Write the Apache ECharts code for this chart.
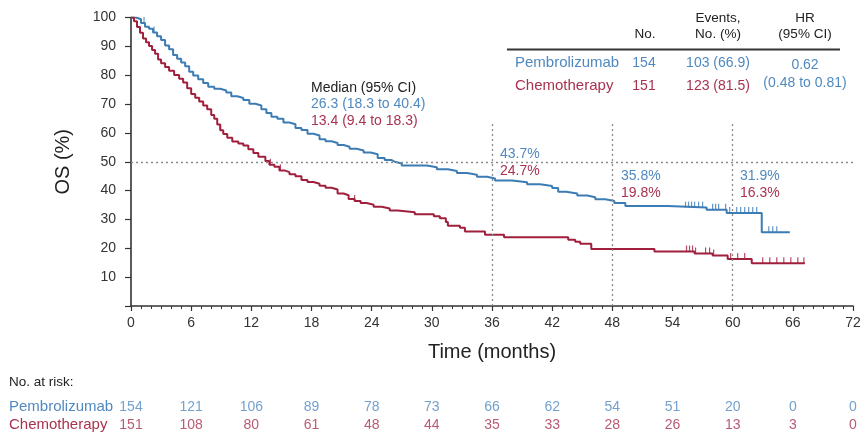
<!DOCTYPE html>
<html>
<head>
<meta charset="utf-8">
<script src="https://cdn.jsdelivr.net/npm/echarts@6/dist/echarts.min.js"></script>
<style>
html,body{margin:0;padding:0;background:#fff;}
#chart{width:865px;height:437px;}
</style>
</head>
<body>
<div id="chart"></div>
<script>
// ---- data ----
const pembroKM = [[0,100],[0.5,99.4],[1.0,98.1],[1.4,96.8],[1.8,96.1],[2.2,94.8],[2.6,93.5],[3.0,92.2],[3.4,90.3],[3.8,89.0],[4.2,87.0],[4.6,85.7],[5.0,84.4],[5.4,83.1],[5.8,81.2],[6.2,79.9],[6.7,78.6],[7.2,77.3],[7.7,76.0],[8.3,75.3],[8.9,74.7],[9.5,74.0],[10.0,72.7],[10.6,72.1],[11.2,71.4],[11.8,70.1],[12.4,69.5],[13.0,68.2],[13.5,66.9],[14.0,65.6],[14.6,64.9],[15.2,63.6],[15.8,63.0],[16.4,61.7],[17.0,61.0],[17.6,59.7],[18.2,59.1],[18.8,57.8],[19.4,57.1],[20.0,56.5],[20.6,55.8],[21.2,55.2],[21.8,54.5],[22.5,53.9],[23.2,53.2],[23.9,52.6],[24.6,51.3],[25.3,50.6],[26.0,50.0],[26.3,49.4],[27.0,48.7],[29.5,48.1],[30.5,47.4],[31.6,46.8],[32.5,46.1],[33.5,45.5],[34.5,44.8],[35.5,44.2],[36.3,43.5],[38.0,42.9],[39.5,42.2],[40.8,41.6],[42.0,40.9],[42.6,39.6],[43.4,39.0],[44.5,38.3],[45.5,37.7],[46.3,37.0],[47.3,36.4],[48.2,35.7],[49.3,34.7],[53.5,34.1],[57.4,33.4],[59.4,32.2],[62.9,25.6],[65.7,25.6]];
const chemoKM = [[0,100],[0.3,98.7],[0.6,96.7],[0.9,94.7],[1.2,92.7],[1.5,91.4],[1.8,90.1],[2.1,88.7],[2.4,87.4],[2.7,85.4],[3.0,84.1],[3.4,82.8],[3.8,81.5],[4.3,80.1],[4.8,78.8],[5.2,77.5],[5.6,75.5],[6.0,73.5],[6.4,72.2],[6.8,70.9],[7.2,69.5],[7.6,68.2],[8.0,66.2],[8.3,64.9],[8.6,62.9],[8.9,60.9],[9.2,59.6],[9.6,58.3],[10.1,57.0],[10.7,56.3],[11.2,55.6],[11.7,54.3],[12.2,53.0],[12.7,51.7],[13.4,50.3],[13.8,49.0],[14.3,48.3],[14.8,47.0],[15.3,46.4],[15.8,45.7],[16.4,45.0],[17.0,43.7],[17.6,43.0],[18.2,42.4],[18.8,41.7],[19.4,41.0],[20.0,40.4],[20.6,39.0],[21.2,38.4],[21.7,37.1],[22.3,36.4],[22.9,35.7],[23.5,35.1],[24.2,34.4],[25.0,33.8],[25.8,33.1],[26.6,32.5],[28.3,31.8],[30.2,31.1],[30.8,30.4],[31.4,29.1],[31.6,27.8],[32.8,27.1],[33.3,25.8],[35.3,24.7],[37.2,23.8],[43.6,23.0],[44.3,22.3],[44.8,21.6],[45.9,19.8],[52.2,18.9],[56.2,18.2],[58.0,17.5],[59.5,16.3],[61.9,14.8],[67.2,14.8]];
const pembroCensor = [1.3,2.3,55.3,55.6,55.9,56.2,56.6,57.0,58.0,58.3,58.6,59.3,59.7,60.4,60.8,61.2,61.6,62.0,62.4,63.6,64.0,64.4];
const chemoCensor = [8.9,13.9,14.9,22.3,55.4,55.7,56.0,56.3,57.3,57.7,58.1,59.8,60.5,61.2,63.0,63.7,64.4,65.1,65.8,66.5,67.1];
const riskTimes = [0,6,12,18,24,30,36,42,48,54,60,66,72];
const pembroRisk = [154,121,106,89,78,73,66,62,54,51,20,0,0];
const chemoRisk = [151,108,80,61,48,44,35,33,28,26,13,3,0];
const landmarkTimes = [36,48,60];
const landmarkTop = 64;
const medianLine = 50;
const xTickLabels = ['0','6','12','18','24','30','36','42','48','54','60','66','72'];
const yTickLabels = ['10','20','30','40','50','60','70','80','90','100'];

const BLUE = '#3c7cb4', RED = '#a01f3c';
const BLUE_T = '#5089bf', RED_T = '#a8324f';
const FONT = '"Liberation Sans", Arial, sans-serif';

function stepAt(km, t){ let v = km[0][1]; for (const p of km){ if (p[0] <= t) v = p[1]; else break; } return v; }

const chart = echarts.init(document.getElementById('chart'), null, {renderer:'canvas'});

const refLines = [[{coord:[0,medianLine]},{coord:[72,medianLine]}]].concat(
  landmarkTimes.map(t => [{coord:[t,0]},{coord:[t,landmarkTop]}]));

function txt(text, x, y, color, size, align){
  return {type:'text', x:x, y:y, silent:true,
    style:{text:text, fill:color, font:(size||13)+'px '+FONT, align:align||'left', verticalAlign:'middle', textAlign:align||'left', textVerticalAlign:'middle'}};
}

const option = {
  animation:false,
  backgroundColor:'#fff',
  grid:[
    {left:131, right:12, top:17.5, bottom:131},
    {left:131, right:12, top:397.5, height:36.6}
  ],
  xAxis:[
    {type:'value', gridIndex:0, min:0, max:72, interval:6,
     name:'Time (months)', nameLocation:'middle', nameGap:36,
     nameTextStyle:{fontSize:20, color:'#222', fontFamily:FONT},
     axisLine:{lineStyle:{color:'#333', width:1.6}},
     axisTick:{length:5, lineStyle:{color:'#333', width:1.2}},
     minorTick:{show:true, splitNumber:6, length:3, lineStyle:{color:'#333', width:1}},
     splitLine:{show:false},
     axisLabel:{fontSize:14, color:'#333', margin:10, fontFamily:FONT,
       formatter:(v)=>{const i=Math.round(v/6); return xTickLabels[i]!==undefined?xTickLabels[i]:'';}}},
    {type:'value', gridIndex:1, min:0, max:72, show:false}
  ],
  yAxis:[
    {type:'value', gridIndex:0, min:0, max:100, interval:10,
     name:'OS (%)', nameLocation:'middle', nameGap:58, nameRotate:90,
     nameTextStyle:{fontSize:20, color:'#222', fontFamily:FONT},
     axisLine:{show:true, lineStyle:{color:'#333', width:1.6}},
     axisTick:{show:true, length:6, lineStyle:{color:'#333', width:1.2}},
     splitLine:{show:false},
     axisLabel:{fontSize:14, color:'#333', margin:15, fontFamily:FONT,
       formatter:(v)=>{const i=Math.round(v/10)-1; return (v>0 && yTickLabels[i])?yTickLabels[i]:'';}}},
    {type:'category', gridIndex:1, data:['Chemotherapy','Pembrolizumab'], show:false}
  ],
  series:[
    {type:'line', name:'Pembrolizumab', xAxisIndex:0, yAxisIndex:0, data:pembroKM, step:'end',
     showSymbol:false, symbol:'none', lineStyle:{color:BLUE, width:2}, z:3,
     markLine:{silent:true, symbol:'none', label:{show:false},
       lineStyle:{type:[2,3], color:'#8a8a8a', width:1.3}, data:refLines}},
    {type:'line', name:'Chemotherapy', xAxisIndex:0, yAxisIndex:0, data:chemoKM, step:'end',
     showSymbol:false, symbol:'none', lineStyle:{color:RED, width:2}, z:3},
    {type:'scatter', xAxisIndex:0, yAxisIndex:0, symbol:'rect', symbolSize:[1.2,6], symbolOffset:[0,-3],
     itemStyle:{color:BLUE}, data:pembroCensor.map(t=>[t, stepAt(pembroKM,t)]), z:4},
    {type:'scatter', xAxisIndex:0, yAxisIndex:0, symbol:'rect', symbolSize:[1.2,6], symbolOffset:[0,-3],
     itemStyle:{color:RED}, data:chemoCensor.map(t=>[t, stepAt(chemoKM,t)]), z:4},
    {type:'scatter', xAxisIndex:1, yAxisIndex:1, symbolSize:0,
     data:riskTimes.map((t,i)=>[t,'Pembrolizumab',pembroRisk[i]]),
     label:{show:true, position:'inside', color:BLUE_T, fontSize:14, fontFamily:FONT, formatter:p=>String(p.value[2])}},
    {type:'scatter', xAxisIndex:1, yAxisIndex:1, symbolSize:0,
     data:riskTimes.map((t,i)=>[t,'Chemotherapy',chemoRisk[i]]),
     label:{show:true, position:'inside', color:RED_T, fontSize:14, fontFamily:FONT, formatter:p=>String(p.value[2])}}
  ],
  graphic:[
    txt('Median (95% CI)', 311, 88, '#222', 14),
    txt('26.3 (18.3 to 40.4)', 311, 104.5, BLUE_T, 14),
    txt('13.4 (9.4 to 18.3)', 311, 121, RED_T, 14),
    txt('43.7%', 500, 154.5, BLUE_T, 14),
    txt('24.7%', 500, 171, RED_T, 14),
    txt('35.8%', 621, 176, BLUE_T, 14),
    txt('19.8%', 621, 193, RED_T, 14),
    txt('31.9%', 740, 176, BLUE_T, 14),
    txt('16.3%', 740, 193, RED_T, 14),
    txt('No.', 645, 34, '#222', 13.5, 'center'),
    txt('Events,', 718, 18.5, '#222', 13.5, 'center'),
    txt('No. (%)', 718, 34, '#222', 13.5, 'center'),
    txt('HR', 805, 18.5, '#222', 13.5, 'center'),
    txt('(95% CI)', 805, 34, '#222', 13.5, 'center'),
    {type:'line', silent:true, shape:{x1:507, y1:49.5, x2:840, y2:49.5}, style:{stroke:'#333', lineWidth:2}},
    txt('Pembrolizumab', 515, 63, BLUE_T, 15),
    txt('Chemotherapy', 515, 86, RED_T, 15),
    txt('154', 644, 63, BLUE_T, 14, 'center'),
    txt('151', 644, 86, RED_T, 14, 'center'),
    txt('103 (66.9)', 718, 63, BLUE_T, 14, 'center'),
    txt('123 (81.5)', 718, 86, RED_T, 14, 'center'),
    txt('0.62', 805, 65, BLUE_T, 14, 'center'),
    txt('(0.48 to 0.81)', 805, 83, BLUE_T, 14, 'center'),
    txt('No. at risk:', 9, 382, '#222', 13.5),
    txt('Pembrolizumab', 9, 406.7, BLUE_T, 15),
    txt('Chemotherapy', 9, 425, RED_T, 15)
  ]
};
chart.setOption(option);
</script>
</body>
</html>
